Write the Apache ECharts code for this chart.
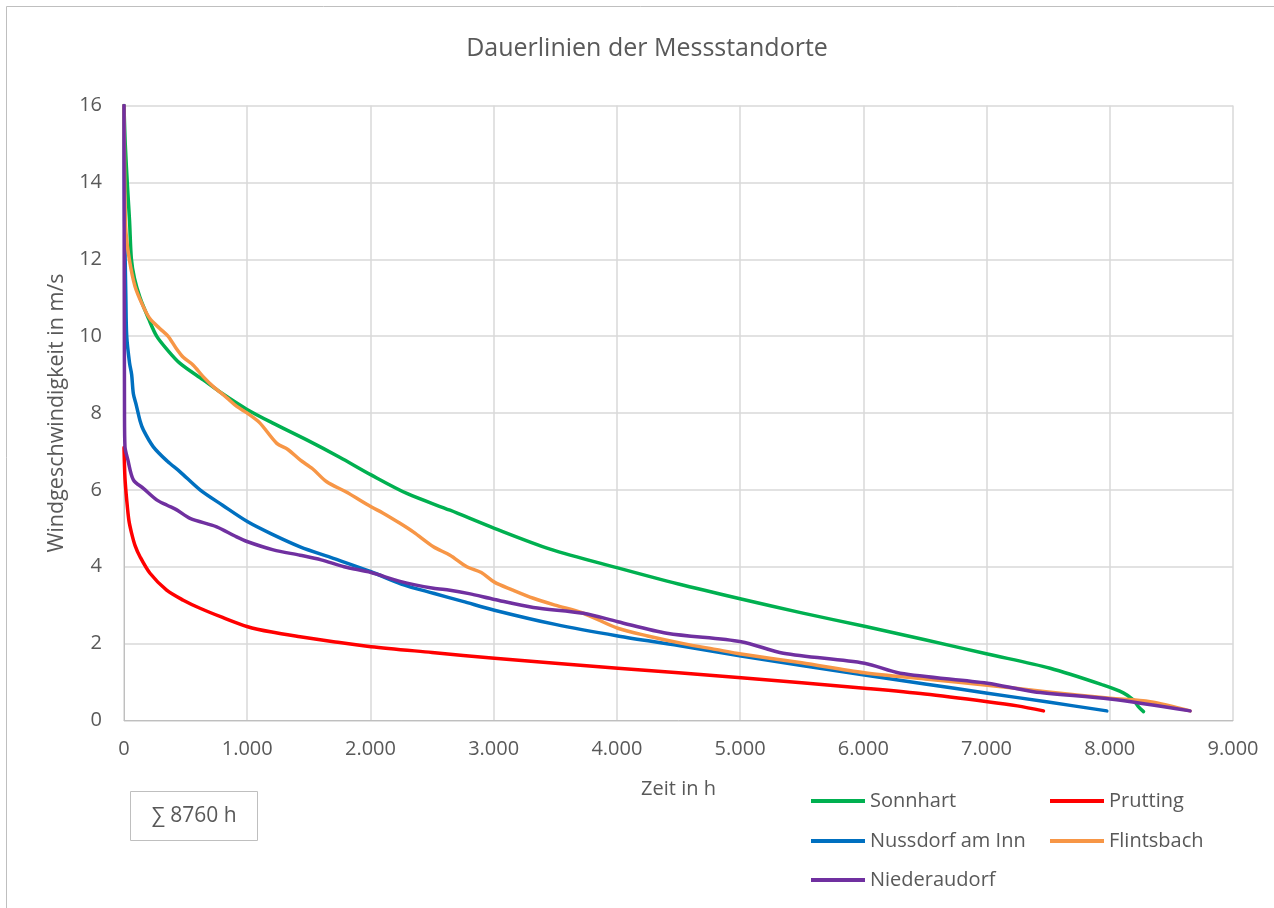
<!DOCTYPE html>
<html>
<head>
<meta charset="utf-8">
<script src="https://cdn.jsdelivr.net/npm/echarts@6/dist/echarts.min.js"></script>
<style>
html,body{margin:0;padding:0;background:#fff;}
#chart{width:1274px;height:908px;}
</style>
</head>
<body>
<div id="chart"></div>
<script>
// ---- Data (hours, wind speed m/s) ----
const seriesNames = ['Sonnhart', 'Prutting', 'Nussdorf am Inn', 'Flintsbach', 'Niederaudorf'];
const seriesColors = ['#00B050', '#FF0000', '#0070C0', '#F79646', '#7030A0'];

const sonnhart = [[0,16],[10,15],[30,13.8],[45,13],[60,12],[85,11.5],[130,11],[200,10.45],[265,10],[350,9.65],[455,9.29],[643,8.86],[800,8.5],[995,8.1],[1200,7.75],[1483,7.3],[1750,6.85],[2005,6.39],[2300,5.9],[2646,5.47],[3006,5.0],[3458,4.46],[4007,3.97],[4500,3.55],[5008,3.16],[5500,2.8],[6009,2.45],[6500,2.1],[7007,1.73],[7516,1.36],[7949,0.92],[8110,0.72],[8193,0.53],[8232,0.36],[8274,0.23]];

const prutting = [[0,7.1],[8,6.3],[22,5.74],[40,5.2],[62,4.87],[90,4.55],[130,4.26],[211,3.83],[346,3.39],[481,3.13],[617,2.92],[800,2.68],[1004,2.44],[1200,2.3],[1429,2.18],[1700,2.05],[2005,1.92],[2500,1.77],[3006,1.62],[3500,1.49],[4007,1.36],[4500,1.24],[5008,1.11],[5500,0.98],[6009,0.84],[6500,0.69],[7007,0.49],[7250,0.38],[7462,0.25]];

const nussdorf = [[0,16],[5,13],[15,11],[22,10],[45,9.3],[62,9.0],[76,8.5],[100,8.2],[130,7.8],[157,7.56],[238,7.12],[350,6.75],[455,6.47],[617,6.0],[800,5.6],[1004,5.17],[1200,4.85],[1429,4.52],[1699,4.22],[2005,3.87],[2250,3.55],[2511,3.31],[2750,3.1],[3006,2.87],[3500,2.5],[4007,2.2],[4500,1.95],[5008,1.68],[5500,1.43],[6009,1.18],[6500,0.95],[7007,0.71],[7500,0.48],[7976,0.25]];

const flintsbach = [[0,16],[8,13.5],[16,12.7],[43,12.0],[89,11.3],[152,10.8],[211,10.45],[290,10.2],[357,10.0],[420,9.7],[481,9.45],[560,9.25],[644,8.94],[720,8.7],[833,8.4],[915,8.17],[1004,7.99],[1100,7.75],[1240,7.21],[1330,7.05],[1429,6.78],[1530,6.55],[1645,6.21],[1800,5.95],[2005,5.56],[2100,5.4],[2240,5.13],[2350,4.9],[2511,4.52],[2646,4.3],[2782,4.0],[2900,3.85],[3006,3.6],[3150,3.4],[3322,3.18],[3500,3.0],[3728,2.79],[4007,2.4],[4250,2.2],[4540,2.0],[4800,1.85],[5008,1.73],[5500,1.5],[6009,1.24],[6500,1.08],[7007,0.92],[7500,0.74],[8003,0.58],[8328,0.49],[8652,0.25]];

const niederaudorf = [[0,16],[4,8],[8,7.12],[30,6.8],[76,6.26],[157,6.04],[265,5.74],[350,5.6],[428,5.48],[536,5.26],[752,5.04],[900,4.8],[1004,4.65],[1212,4.44],[1429,4.3],[1600,4.18],[1786,4.0],[2005,3.85],[2240,3.62],[2511,3.44],[2646,3.39],[2800,3.3],[3006,3.15],[3322,2.94],[3728,2.79],[4007,2.57],[4405,2.27],[5008,2.05],[5351,1.75],[6009,1.49],[6299,1.23],[7007,0.97],[7381,0.75],[8003,0.56],[8652,0.25]];

const seriesData = [sonnhart, prutting, nussdorf, flintsbach, niederaudorf];

const titleText = 'Dauerlinien der Messstandorte';
const xAxisName = 'Zeit in h';
const yAxisName = 'Windgeschwindigkeit in m/s';
const sumLabel = '\u2211 8760 h';

// ---- Chart ----
const FONT = '"Open Sans", sans-serif';
const TXT = '#595959';
const chart = echarts.init(document.getElementById('chart'), null, {renderer: 'canvas'});

function fmtThousands(v) {
  return String(Math.round(v)).replace(/\B(?=(\d{3})+(?!\d))/g, '.');
}

const legendPos = [
  {left: 811, top: 791},
  {left: 1050, top: 791},
  {left: 811, top: 831},
  {left: 1050, top: 831},
  {left: 811, top: 870}
];

const option = {
  backgroundColor: '#ffffff',
  animation: false,
  title: {
    text: titleText,
    left: 642,
    top: 31,
    textAlign: 'center',
    textStyle: {fontFamily: FONT, fontSize: 25, fontWeight: 'normal', color: TXT}
  },
  grid: {left: 124, right: 41, top: 105.5, bottom: 187.5, containLabel: false},
  xAxis: {
    type: 'value',
    min: 0, max: 9000, interval: 1000,
    name: xAxisName,
    nameLocation: 'middle',
    nameGap: 59,
    nameTextStyle: {fontFamily: FONT, fontSize: 20, color: TXT},
    axisLine: {show: true, lineStyle: {color: '#bfbfbf', width: 1}},
    axisTick: {show: false},
    axisLabel: {fontFamily: FONT, fontSize: 20, color: TXT, margin: 19, formatter: fmtThousands},
    splitLine: {show: true, lineStyle: {color: '#d9d9d9', width: 1.5}}
  },
  yAxis: {
    type: 'value',
    min: 0, max: 16, interval: 2,
    name: yAxisName,
    nameLocation: 'middle',
    nameGap: 54,
    nameTextStyle: {fontFamily: FONT, fontSize: 21.5, color: TXT},
    axisLine: {show: true, lineStyle: {color: '#bfbfbf', width: 1}},
    axisTick: {show: false},
    axisLabel: {fontFamily: FONT, fontSize: 20, color: TXT, margin: 22},
    splitLine: {show: true, lineStyle: {color: '#d9d9d9', width: 1.5}}
  },
  legend: seriesNames.map((n, i) => ({
    data: [n],
    left: legendPos[i].left,
    top: legendPos[i].top,
    orient: 'horizontal',
    icon: 'rect',
    itemWidth: 54,
    itemHeight: 4,
    itemGap: 5,
    padding: 0,
    selectedMode: false,
    textStyle: {fontFamily: FONT, fontSize: 20, color: TXT, padding: [0,0,0,0]}
  })),
  series: seriesNames.map((n, i) => ({
    name: n,
    type: 'line',
    data: seriesData[i],
    showSymbol: false,
    symbol: 'none',
    smooth: 0.3,
    clip: true,
    color: seriesColors[i],
    lineStyle: {color: seriesColors[i], width: 3.5, cap: 'round', join: 'round'},
    z: 2 + i
  })),
  graphic: [
    {
      type: 'rect',
      shape: {x: 6.5, y: 6.5, width: 1400, height: 1000},
      style: {fill: 'none', stroke: '#bfbfbf', lineWidth: 1},
      silent: true, z: -1
    },
    {
      type: 'rect',
      shape: {x: 130.5, y: 791.5, width: 127, height: 49},
      style: {fill: '#ffffff', stroke: '#bfbfbf', lineWidth: 1},
      silent: true
    },
    {
      type: 'text',
      x: 194, y: 816,
      style: {text: sumLabel, fontFamily: FONT, fontSize: 21, fill: TXT, align: 'center', verticalAlign: 'middle'},
      silent: true
    }
  ]
};
chart.setOption(option);
</script>
</body>
</html>
